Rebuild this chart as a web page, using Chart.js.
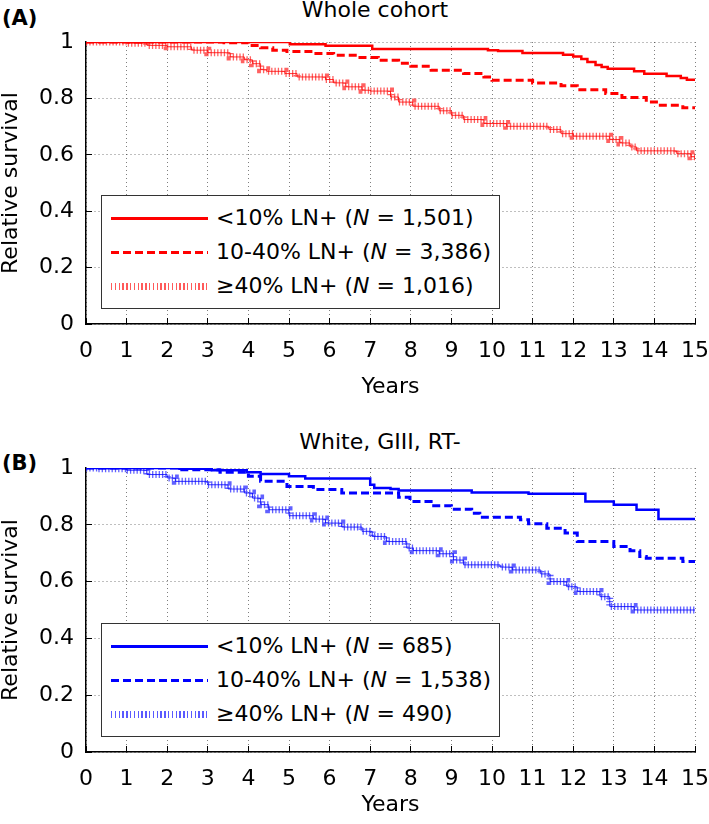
<!DOCTYPE html>
<html>
<head>
<meta charset="utf-8">
<script src="https://cdn.jsdelivr.net/npm/chart.js@4.4.1/dist/chart.umd.min.js"></script>
<style>
body { margin: 0; background: #fff; font-family: "DejaVu Sans", sans-serif; color: #000; }
#lienzo { position: relative; width: 709px; height: 824px; overflow: hidden; }
canvas { position: absolute; left: 0; }
.letra { position: absolute; left: 2px; font-weight: bold; font-size: 21px; line-height: 21px; }
.titulo { position: absolute; font-size: 22px; line-height: 22px; white-space: nowrap; transform: translateX(-50%); }
.leyenda { position: absolute; left: 101px; width: 399px; height: 114px; box-sizing: border-box;
  border: 1.5px solid #333; background: #fff; padding-top: 5px; }
.fila { position: relative; height: 34px; line-height: 34px; font-size: 22px; white-space: nowrap; }
.muestra { position: absolute; left: 9px; width: 97px; }
.texto { position: absolute; left: 114px; top: 0; }
</style>
</head>
<body>
<div id="lienzo">
  <div class="letra" style="top:8px">(A)</div>
  <div class="titulo" id="tituloA" style="left:375px; top:-1px"></div>
  <canvas id="graficaA" width="709" height="400" style="top:0"></canvas>
  <div class="leyenda" id="leyendaA" style="top:195px"></div>

  <div class="letra" style="top:453px">(B)</div>
  <div class="titulo" id="tituloB" style="left:380px; top:431px"></div>
  <canvas id="graficaB" width="709" height="424" style="top:400px"></canvas>
  <div class="leyenda" id="leyendaB" style="top:623px"></div>
</div>
<script>
const tituloA = 'Whole cohort';
const tituloB = 'White, GIII, RT-';
const grupos = ['<10% LN+', '10-40% LN+', '≥40% LN+'];
const nA = ['1,501', '3,386', '1,016'];
const nB = ['685', '1,538', '490'];

// Whole cohort (years, relative survival)
const tA1 = [0, 5.02, 5.9, 7.05, 9.9, 10.15, 10.75, 11.75, 12.0, 12.2, 12.35, 12.55, 12.7, 12.85, 13.5, 13.75, 14.3, 14.65, 14.8, 15];
const sA1 = [1, 0.992, 0.987, 0.975, 0.971, 0.968, 0.961, 0.955, 0.949, 0.94, 0.929, 0.918, 0.911, 0.905, 0.896, 0.887, 0.879, 0.872, 0.866, 0.862];
const tA2 = [0, 3.4, 4.0, 4.3, 4.6, 4.95, 5.6, 6.1, 6.7, 7.2, 7.7, 8.0, 8.5, 9.3, 9.8, 10.0, 11.0, 11.7, 12.1, 12.8, 13.2, 13.8, 14.1, 14.7, 15];
const sA2 = [1, 0.997, 0.988, 0.98, 0.971, 0.966, 0.959, 0.953, 0.945, 0.935, 0.925, 0.914, 0.9, 0.888, 0.876, 0.864, 0.855, 0.845, 0.831, 0.817, 0.803, 0.787, 0.776, 0.767, 0.765];
const tA3 = [0, 1.0, 1.5, 2.0, 2.6, 3.0, 3.55, 3.9, 4.1, 4.3, 4.45, 4.9, 5.2, 5.9, 6.1, 6.4, 6.8, 7.0, 7.5, 7.7, 8.05, 8.7, 9.0, 9.3, 9.8, 10.36, 11.4, 11.7, 12.0, 12.9, 13.15, 13.4, 13.56, 14.55, 14.9, 15];
const sA3 = [1, 0.996, 0.988, 0.983, 0.971, 0.962, 0.947, 0.937, 0.923, 0.902, 0.896, 0.888, 0.876, 0.867, 0.855, 0.841, 0.829, 0.826, 0.805, 0.787, 0.772, 0.756, 0.74, 0.725, 0.711, 0.701, 0.69, 0.675, 0.666, 0.654, 0.642, 0.628, 0.614, 0.604, 0.593, 0.583];

// White, GIII, RT-
const tB1 = [0, 2.3, 3.1, 3.96, 4.3, 5.0, 5.4, 7.0, 7.1, 7.5, 7.7, 9.5, 10.9, 12.3, 13.0, 13.56, 14.1, 15];
const sB1 = [1, 0.997, 0.992, 0.985, 0.979, 0.971, 0.963, 0.941, 0.93, 0.926, 0.921, 0.914, 0.909, 0.882, 0.871, 0.853, 0.82, 0.818];
const tB2 = [0, 2.3, 3.3, 4.0, 4.3, 4.95, 5.6, 6.3, 7.7, 7.98, 8.5, 9.0, 9.5, 9.7, 10.7, 10.9, 11.35, 11.8, 12.1, 13.0, 13.4, 13.64, 13.8, 14.7, 15];
const sB2 = [1, 0.994, 0.985, 0.971, 0.953, 0.935, 0.924, 0.912, 0.897, 0.882, 0.867, 0.855, 0.841, 0.827, 0.818, 0.804, 0.788, 0.771, 0.741, 0.724, 0.709, 0.688, 0.682, 0.671, 0.668];
const tB3 = [0, 0.3, 1.0, 1.5, 2.0, 2.2, 3.0, 3.5, 3.9, 4.1, 4.3, 4.5, 5.0, 5.6, 5.9, 6.3, 6.8, 7.05, 7.4, 7.9, 8.06, 8.7, 9.05, 9.3, 10.2, 10.5, 11.2, 11.43, 11.84, 12.1, 12.66, 12.9, 13.5, 15];
const sB3 = [1, 0.997, 0.992, 0.977, 0.965, 0.953, 0.941, 0.926, 0.912, 0.894, 0.871, 0.853, 0.832, 0.82, 0.806, 0.792, 0.777, 0.759, 0.741, 0.718, 0.709, 0.698, 0.676, 0.659, 0.651, 0.641, 0.627, 0.6, 0.582, 0.565, 0.547, 0.512, 0.5, 0.5];

const fuente = { family: 'DejaVu Sans', size: 22 };

function puntos(t, s) {
  return t.map((x, i) => ({ x: x, y: s[i] }));
}

function crearGrafica(lienzo, series, color, trama, arriba, altoX, margenTitulo) {
  return new Chart(lienzo, {
    type: 'line',
    data: {
      datasets: [
        { data: series[0], borderColor: color, borderWidth: 2.5, stepped: true, pointRadius: 0 },
        { data: series[1], borderColor: color, borderWidth: 3, borderDash: [8, 4], stepped: true, pointRadius: 0 },
        { data: series[2], borderColor: color, borderWidth: 0.8, stepped: true, pointRadius: 0 },
        { data: series[2], borderColor: trama, borderWidth: 7, borderDash: [1.3, 2], stepped: true, pointRadius: 0 }
      ]
    },
    options: {
      responsive: false,
      animation: false,
      devicePixelRatio: 1,
      layout: { padding: { top: arriba, right: 14, left: 0, bottom: 0 } },
      plugins: { legend: { display: false }, tooltip: { enabled: false } },
      scales: {
        x: {
          type: 'linear', min: 0, max: 15,
          ticks: { stepSize: 1, autoSkip: false, maxRotation: 0, padding: 20, color: '#000', font: fuente },
          grid: { color: 'rgba(0,0,0,0.5)', lineWidth: 1, tickColor: '#000', tickLength: -6 },
          border: { color: '#000', width: 1.5, dash: [1, 3] },
          title: { display: true, text: 'Years', color: '#000', font: { family: 'DejaVu Sans', size: 22, lineHeight: 1 }, padding: { top: 0, bottom: margenTitulo } },
          afterFit: (s) => { s.height = altoX; s.paddingLeft = 0; s.paddingRight = 0; }
        },
        y: {
          min: 0, max: 1,
          ticks: { stepSize: 0.2, padding: 18, color: '#000', font: fuente,
            callback: (v) => String(Math.round(v * 10) / 10) },
          grid: { color: 'rgba(0,0,0,0.5)', lineWidth: 1, tickColor: '#000', tickLength: -6 },
          border: { color: '#000', width: 1.5, dash: [1, 3] },
          title: { display: true, text: 'Relative survival', color: '#000', font: { family: 'DejaVu Sans', size: 22, lineHeight: 1 }, padding: { top: 0, bottom: 0 } },
          afterFit: (s) => { s.width = 86; s.paddingTop = 0; s.paddingBottom = 0; }
        }
      }
    }
  });
}

function crearLeyenda(caja, cantidades, color, trama) {
  const muestras = [
    'top:16px; height:3px; background:' + color,
    'top:16px; height:3px; background:repeating-linear-gradient(90deg,' + color + ' 0 8px, #fff 8px 12px)',
    'top:14px; height:7px; background:repeating-linear-gradient(90deg,' + trama + ' 0 1.5px, #fff 1.5px 3.8px)'
  ];
  grupos.forEach((g, i) => {
    const fila = document.createElement('div');
    fila.className = 'fila';
    const m = document.createElement('div');
    m.className = 'muestra';
    m.style.cssText = muestras[i];
    const t = document.createElement('div');
    t.className = 'texto';
    t.append(g + ' (');
    const n = document.createElement('i');
    n.textContent = 'N';
    t.append(n, ' = ' + cantidades[i] + ')');
    fila.append(m, t);
    caja.append(fila);
  });
}

document.getElementById('tituloA').textContent = tituloA;
document.getElementById('tituloB').textContent = tituloB;

crearGrafica(document.getElementById('graficaA'),
  [puntos(tA1, sA1), puntos(tA2, sA2), puntos(tA3, sA3)],
  '#ff0000', 'rgba(255,30,30,0.7)', 42, 76, 2);
crearGrafica(document.getElementById('graficaB'),
  [puntos(tB1, sB1), puntos(tB2, sB2), puntos(tB3, sB3)],
  '#0000ff', 'rgba(30,30,255,0.7)', 68, 72, 8);

crearLeyenda(document.getElementById('leyendaA'), nA, '#ff0000', '#ff5a5a');
crearLeyenda(document.getElementById('leyendaB'), nB, '#0000ff', '#5a5aff');
</script>
</body>
</html>
